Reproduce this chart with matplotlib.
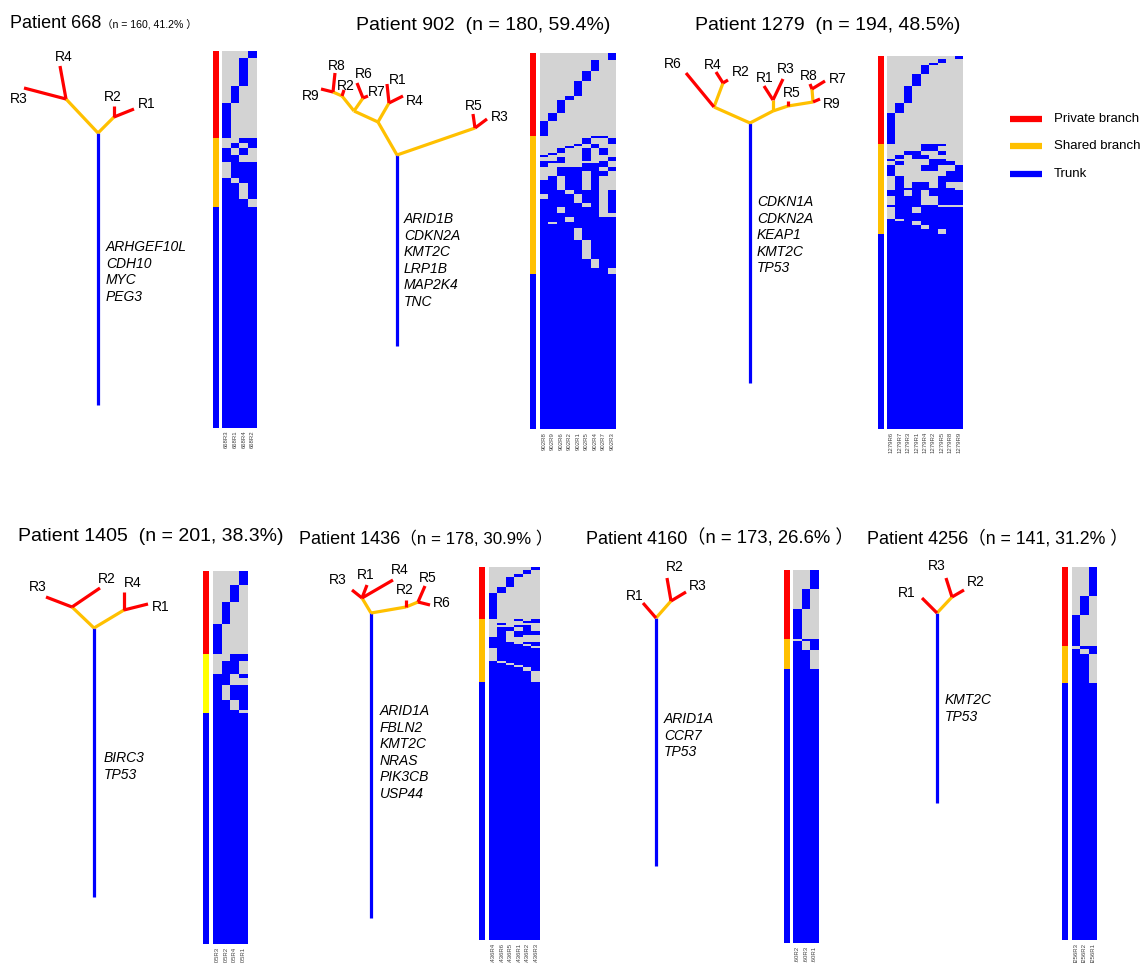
import numpy as np
import matplotlib.pyplot as plt
from matplotlib.colors import ListedColormap

plt.rcParams['font.family'] = ['Liberation Sans', 'Noto Sans CJK SC', 'DejaVu Sans']

RED = '#FF0000'
ORANGE = '#FFC000'
YELLOW = '#FFFF00'
BLUE = '#0000FF'
GRAY = '#D3D3D3'

W, H = 1147, 963

# ---------------- data ----------------
patients = ['668', '902', '1279', '1405', '1436', '4160', '4256']
n_mut = [160, 180, 194, 201, 178, 173, 141]
het_pct = [41.2, 59.4, 48.5, 38.3, 30.9, 26.6, 31.2]
wide_paren = [True, False, False, False, True, True, True]

# heatmap columns (region order) per patient
regions = {
    '668': ['R3', 'R1', 'R4', 'R2'],
    '902': ['R8', 'R9', 'R6', 'R2', 'R1', 'R5', 'R4', 'R7', 'R3'],
    '1279': ['R6', 'R7', 'R3', 'R1', 'R4', 'R2', 'R5', 'R8', 'R9'],
    '1405': ['R3', 'R2', 'R4', 'R1'],
    '1436': ['R4', 'R6', 'R5', 'R1', 'R2', 'R3'],
    '4160': ['R2', 'R3', 'R1'],
    '4256': ['R3', 'R2', 'R1'],
}

# private mutation counts per column
private = {
    '668': [15, 7, 12, 3],
    '902': [7, 4, 6, 2, 7, 5, 5, 0, 4],
    '1279': [16, 5, 9, 6, 5, 1, 2, 0, 2],
    '1405': [16, 12, 9, 8],
    '1436': [12, 3, 5, 1, 2, 2],
    '4160': [14, 9, 9],
    '4256': [12, 7, 11],
}

# shared mutations: (presence pattern, number of rows), top to bottom
shared = {
    '668': [('0011', 2), ('0101', 2), ('1010', 3), ('1100', 3), ('0111', 7),
            ('1011', 2), ('1101', 7), ('1110', 3)],
    '902': [('000000110', 1), ('000001001', 3), ('000010100', 1), ('000100100', 1),
            ('001001010', 2), ('010001010', 1), ('100001000', 1), ('001001001', 2),
            ('111000010', 1), ('100001110', 2), ('001111101', 2), ('001110110', 2),
            ('010110100', 2), ('110110100', 5), ('111011101', 2), ('011101101', 2),
            ('111101101', 2), ('111110101', 2), ('110111101', 3), ('111111100', 2),
            ('111011111', 2), ('101111111', 1), ('111111111', 2), ('111101111', 6),
            ('111110111', 9), ('111111011', 4), ('111111110', 3)],
    '1279': [('000011100', 1), ('000011000', 3), ('001100100', 2), ('010110000', 2),
             ('100001100', 1), ('010001110', 2), ('100011001', 3), ('100000011', 3),
             ('010000111', 3), ('010110100', 3), ('011111110', 1), ('110101111', 3),
             ('011100111', 2), ('011100111', 3), ('111111000', 1), ('011011111', 3),
             ('011111111', 3), ('101111111', 1), ('111011111', 2), ('111101111', 2),
             ('111111011', 3)],
    '1405': [('0011', 4), ('0110', 7), ('1101', 2), ('1100', 4), ('1011', 8),
             ('1101', 5), ('1110', 2)],
    '1436': [('000101', 1), ('000011', 1), ('010000', 1), ('000110', 1), ('011010', 2),
             ('010111', 2), ('010100', 1), ('110000', 2), ('111011', 1), ('111101', 1),
             ('111110', 1), ('011111', 6), ('101111', 1), ('110111', 1), ('111011', 1),
             ('111101', 2), ('111110', 5)],
    '4160': [('011', 1), ('101', 4), ('110', 9)],
    '4256': [('011', 1), ('101', 2), ('110', 11)],
}

# genes on the trunk
genes = {
    '668': ['ARHGEF10L', 'CDH10', 'MYC', 'PEG3'],
    '902': ['ARID1B', 'CDKN2A', 'KMT2C', 'LRP1B', 'MAP2K4', 'TNC'],
    '1279': ['CDKN1A', 'CDKN2A', 'KEAP1', 'KMT2C', 'TP53'],
    '1405': ['BIRC3', 'TP53'],
    '1436': ['ARID1A', 'FBLN2', 'KMT2C', 'NRAS', 'PIK3CB', 'USP44'],
    '4160': ['ARID1A', 'CCR7', 'TP53'],
    '4256': ['KMT2C', 'TP53'],
}

# tree topology: node -> (parent, dx, dy, kind); root at (0, 0), y up
trees = {
    '668': {'A': ('root', -32, 34, 's'), 'B': ('root', 16, 16, 's'),
            'R4': ('A', -38, 67, 'p'), 'R3': ('A', -74, 45, 'p'),
            'R2': ('B', 16, 27, 'p'), 'R1': ('B', 36, 24, 'p')},
    '902': {'C': ('root', 78, 27, 's'), 'R5': ('C', 76, 41, 'p'), 'R3': ('C', 90, 36, 'p'),
            'D': ('root', -19, 33, 's'), 'E': ('D', -8, 52, 's'),
            'R1': ('E', -10, 71, 'p'), 'R4': ('E', 6, 59, 'p'),
            'F': ('D', -43, 44, 's'), 'G': ('F', -34, 57, 's'),
            'R6': ('G', -40, 72, 'p'), 'R7': ('G', -29, 59, 'p'),
            'K': ('F', -55, 59, 's'), 'R2': ('K', -53, 65, 'p'),
            'H': ('K', -64, 63, 's'), 'R8': ('H', -62, 82, 'p'), 'R9': ('H', -76, 66, 'p')},
    '1279': {'L': ('root', -36, 16, 's'), 'R6': ('L', -64, 50, 'p'),
             'M': ('L', -27, 40, 's'), 'R4': ('M', -34, 51, 'p'), 'R2': ('M', -22, 43, 'p'),
             'N': ('root', 23, 12, 's'), 'O': ('N', 23, 23, 's'),
             'R1': ('O', 14, 37, 'p'), 'R3': ('O', 33, 44, 'p'),
             'Q': ('N', 38, 17, 's'), 'R5': ('Q', 38, 22, 'p'),
             'P': ('Q', 63, 21, 's'), 'S': ('P', 62, 34, 's'),
             'R8': ('S', 60, 39, 'p'), 'R7': ('S', 75, 42, 'p'), 'R9': ('P', 70, 24, 'p')},
    '1405': {'A': ('root', -22, 21, 's'), 'R3': ('A', -48, 31, 'p'), 'R2': ('A', 6, 40, 'p'),
             'B': ('root', 30, 18, 's'), 'R4': ('B', 30, 36, 'p'), 'R1': ('B', 54, 24, 'p')},
    '1436': {'T': ('root', -9, 15, 's'), 'R3': ('T', -19, 23, 'p'), 'R1': ('T', -4, 28, 'p'),
             'R4': ('T', 22, 33, 'p'), 'U': ('root', 35, 6, 's'), 'R2': ('U', 35, 13, 'p'),
             'V': ('U', 47, 11, 's'), 'R5': ('V', 54, 27, 'p'), 'R6': ('V', 59, 8, 'p')},
    '4160': {'R1': ('root', -13, 15, 'p'), 'A': ('root', 15, 17, 's'),
             'R2': ('A', 11, 40, 'p'), 'R3': ('A', 30, 26, 'p')},
    '4256': {'R1': ('root', -15, 15, 'p'), 'A': ('root', 15, 16, 's'),
             'R3': ('A', 9, 35, 'p'), 'R2': ('A', 27, 23, 'p')},
}
trunk_len = {'668': 272, '902': 191, '1279': 260, '1405': 269, '1436': 305, '4160': 248, '4256': 190}

# region label offsets from root
tip_labels = {
    '668': {'R4': (-34, 76), 'R3': (-79, 34), 'R2': (15, 36), 'R1': (49, 29)},
    '902': {'R8': (-60, 89), 'R9': (-86, 59), 'R2': (-51, 69), 'R6': (-33, 81), 'R7': (-20, 63),
            'R1': (1, 75), 'R4': (18, 54), 'R5': (77, 49), 'R3': (103, 38)},
    '1279': {'R6': (-77, 59), 'R4': (-37, 58), 'R2': (-9, 51), 'R1': (15, 45), 'R3': (36, 54),
             'R5': (42, 30), 'R8': (59, 47), 'R7': (88, 44), 'R9': (82, 19)},
    '1405': {'R3': (-56, 41), 'R2': (13, 49), 'R4': (39, 45), 'R1': (67, 21)},
    '1436': {'R3': (-33, 33), 'R1': (-5, 38), 'R4': (29, 43), 'R2': (34, 23), 'R5': (57, 35),
             'R6': (71, 10)},
    '4160': {'R1': (-21, 22), 'R2': (19, 51), 'R3': (42, 32)},
    '4256': {'R1': (-30, 20), 'R3': (0, 47), 'R2': (39, 31)},
}
gene_offset = {'668': (8, -114), '902': (7, -64), '1279': (7, -79), '1405': (10, -130),
               '1436': (9, -98), '4160': (8, -101), '4256': (8, -87)}

# ---------------- layout (pixels) ----------------
tree_root = {'668': (98, 133), '902': (397, 155), '1279': (750, 123), '1405': (94, 628),
             '1436': (371, 613), '4160': (656, 618), '4256': (937, 613)}
# title x, baseline y, (parenthesis span for the full-width style)
title_pos = {'668': (10, 27.5, 102, 197), '902': (356, 29.5, None, None),
             '1279': (695, 29.5, None, None), '1405': (18, 541, None, None),
             '1436': (299, 543.5, 400, 552), '4160': (586, 543.5, 687, 853),
             '4256': (867, 543.5, 968, 1128)}
# bar x0, x1, heat x0, x1, y0, y1
heat_box = {'668': (213, 219, 222, 257, 51, 428), '902': (530, 536, 540, 616, 53, 429),
            '1279': (878, 884, 887, 963, 56, 429), '1405': (203, 209, 213, 247, 571, 944),
            '1436': (479, 485, 489, 540, 567, 940), '4160': (784, 790, 793, 819, 570, 943),
            '4256': (1062, 1068, 1072, 1097, 567, 940)}

fig = plt.figure(figsize=(W / 100, H / 100), dpi=100)
ax0 = fig.add_axes([0, 0, 1, 1])
ax0.set_xlim(0, W)
ax0.set_ylim(H, 0)
ax0.axis('off')
renderer = fig.canvas.get_renderer()

kind_color = {'p': RED, 's': ORANGE}
lw = 2.3


def frac(x0, x1, y0, y1):
    return [x0 / W, 1 - y1 / H, (x1 - x0) / W, (y1 - y0) / H]


for i, pid in enumerate(patients):
    # title
    tx, ty, px0, px1 = title_pos[pid]
    if wide_paren[i]:
        ax0.text(tx, ty, f'Patient {pid}', fontsize=13, ha='left', va='baseline')
        t = ax0.text(px0, ty, f'（n = {n_mut[i]}, {het_pct[i]}% ）', fontsize=13,
                     ha='left', va='baseline')
        bb = t.get_window_extent(renderer=renderer)
        t.set_fontsize(13 * (px1 - px0) / bb.width)
    else:
        ax0.text(tx, ty, f'Patient {pid}  (n = {n_mut[i]}, {het_pct[i]}%)', fontsize=14,
                 ha='left', va='baseline')

    # tree
    rx, ry = tree_root[pid]
    nodes = trees[pid]

    def pos(name):
        if name == 'root':
            return rx, ry
        _, dx, dy, _ = nodes[name]
        return rx + dx, ry - dy

    ax0.plot([rx, rx], [ry, ry + trunk_len[pid]], color=BLUE, lw=lw, solid_capstyle='butt')
    for name, (par, dx, dy, kind) in nodes.items():
        ppx, ppy = pos(par)
        cx, cy = pos(name)
        ax0.plot([ppx, cx], [ppy, cy], color=kind_color[kind], lw=lw,
                 solid_capstyle='butt', zorder=3 if kind == 'p' else 2)
    for lab, (lx, ly) in tip_labels[pid].items():
        ax0.text(rx + lx, ry - ly, lab, fontsize=10, ha='center', va='center')
    gx, gy = gene_offset[pid]
    ax0.text(rx + gx, ry - gy - 7, '\n'.join(genes[pid]), fontsize=10, style='italic',
             ha='left', va='top', linespacing=1.23)

    # mutation matrix
    ncol = len(regions[pid])
    rows = []
    cat = []
    for j in range(ncol - 1, -1, -1):
        r = np.zeros(ncol)
        r[j] = 1
        rows += [r] * private[pid][j]
        cat += [0] * private[pid][j]
    for pat, cnt in shared[pid]:
        r = np.array([int(c) for c in pat], dtype=float)
        rows += [r] * cnt
        cat += [1] * cnt
    n_trunk = n_mut[i] - len(rows)
    rows += [np.ones(ncol)] * n_trunk
    cat += [2] * n_trunk
    mat = np.array(rows)

    bx0, bx1, hx0, hx1, y0, y1 = heat_box[pid]
    axb = fig.add_axes(frac(bx0, bx1, y0, y1))
    shared_col = YELLOW if pid == '1405' else ORANGE
    axb.imshow(np.array(cat)[:, None], cmap=ListedColormap([RED, shared_col, BLUE]),
               vmin=0, vmax=2, aspect='auto', interpolation='nearest')
    axb.axis('off')

    axh = fig.add_axes(frac(hx0, hx1, y0, y1))
    axh.imshow(mat, cmap=ListedColormap([GRAY, BLUE]), vmin=0, vmax=1,
               aspect='auto', interpolation='nearest')
    axh.set_yticks([])
    axh.set_xticks(range(ncol))
    axh.set_xticklabels([pid + r for r in regions[pid]], rotation=90, fontsize=4.3,
                        color='#444444')
    axh.tick_params(length=0, pad=2)
    for s in axh.spines.values():
        s.set_visible(False)

# legend
leg_labels = ['Private branch', 'Shared branch', 'Trunk']
leg_colors = [RED, ORANGE, BLUE]
leg_y = [119, 146, 174]
for lab, col, y in zip(leg_labels, leg_colors, leg_y):
    ax0.plot([1010, 1042], [y, y], color=col, lw=4.5, solid_capstyle='butt')
    ax0.text(1054, y, lab, fontsize=9.5, ha='left', va='center')

fig.savefig('out.png', dpi=100)
